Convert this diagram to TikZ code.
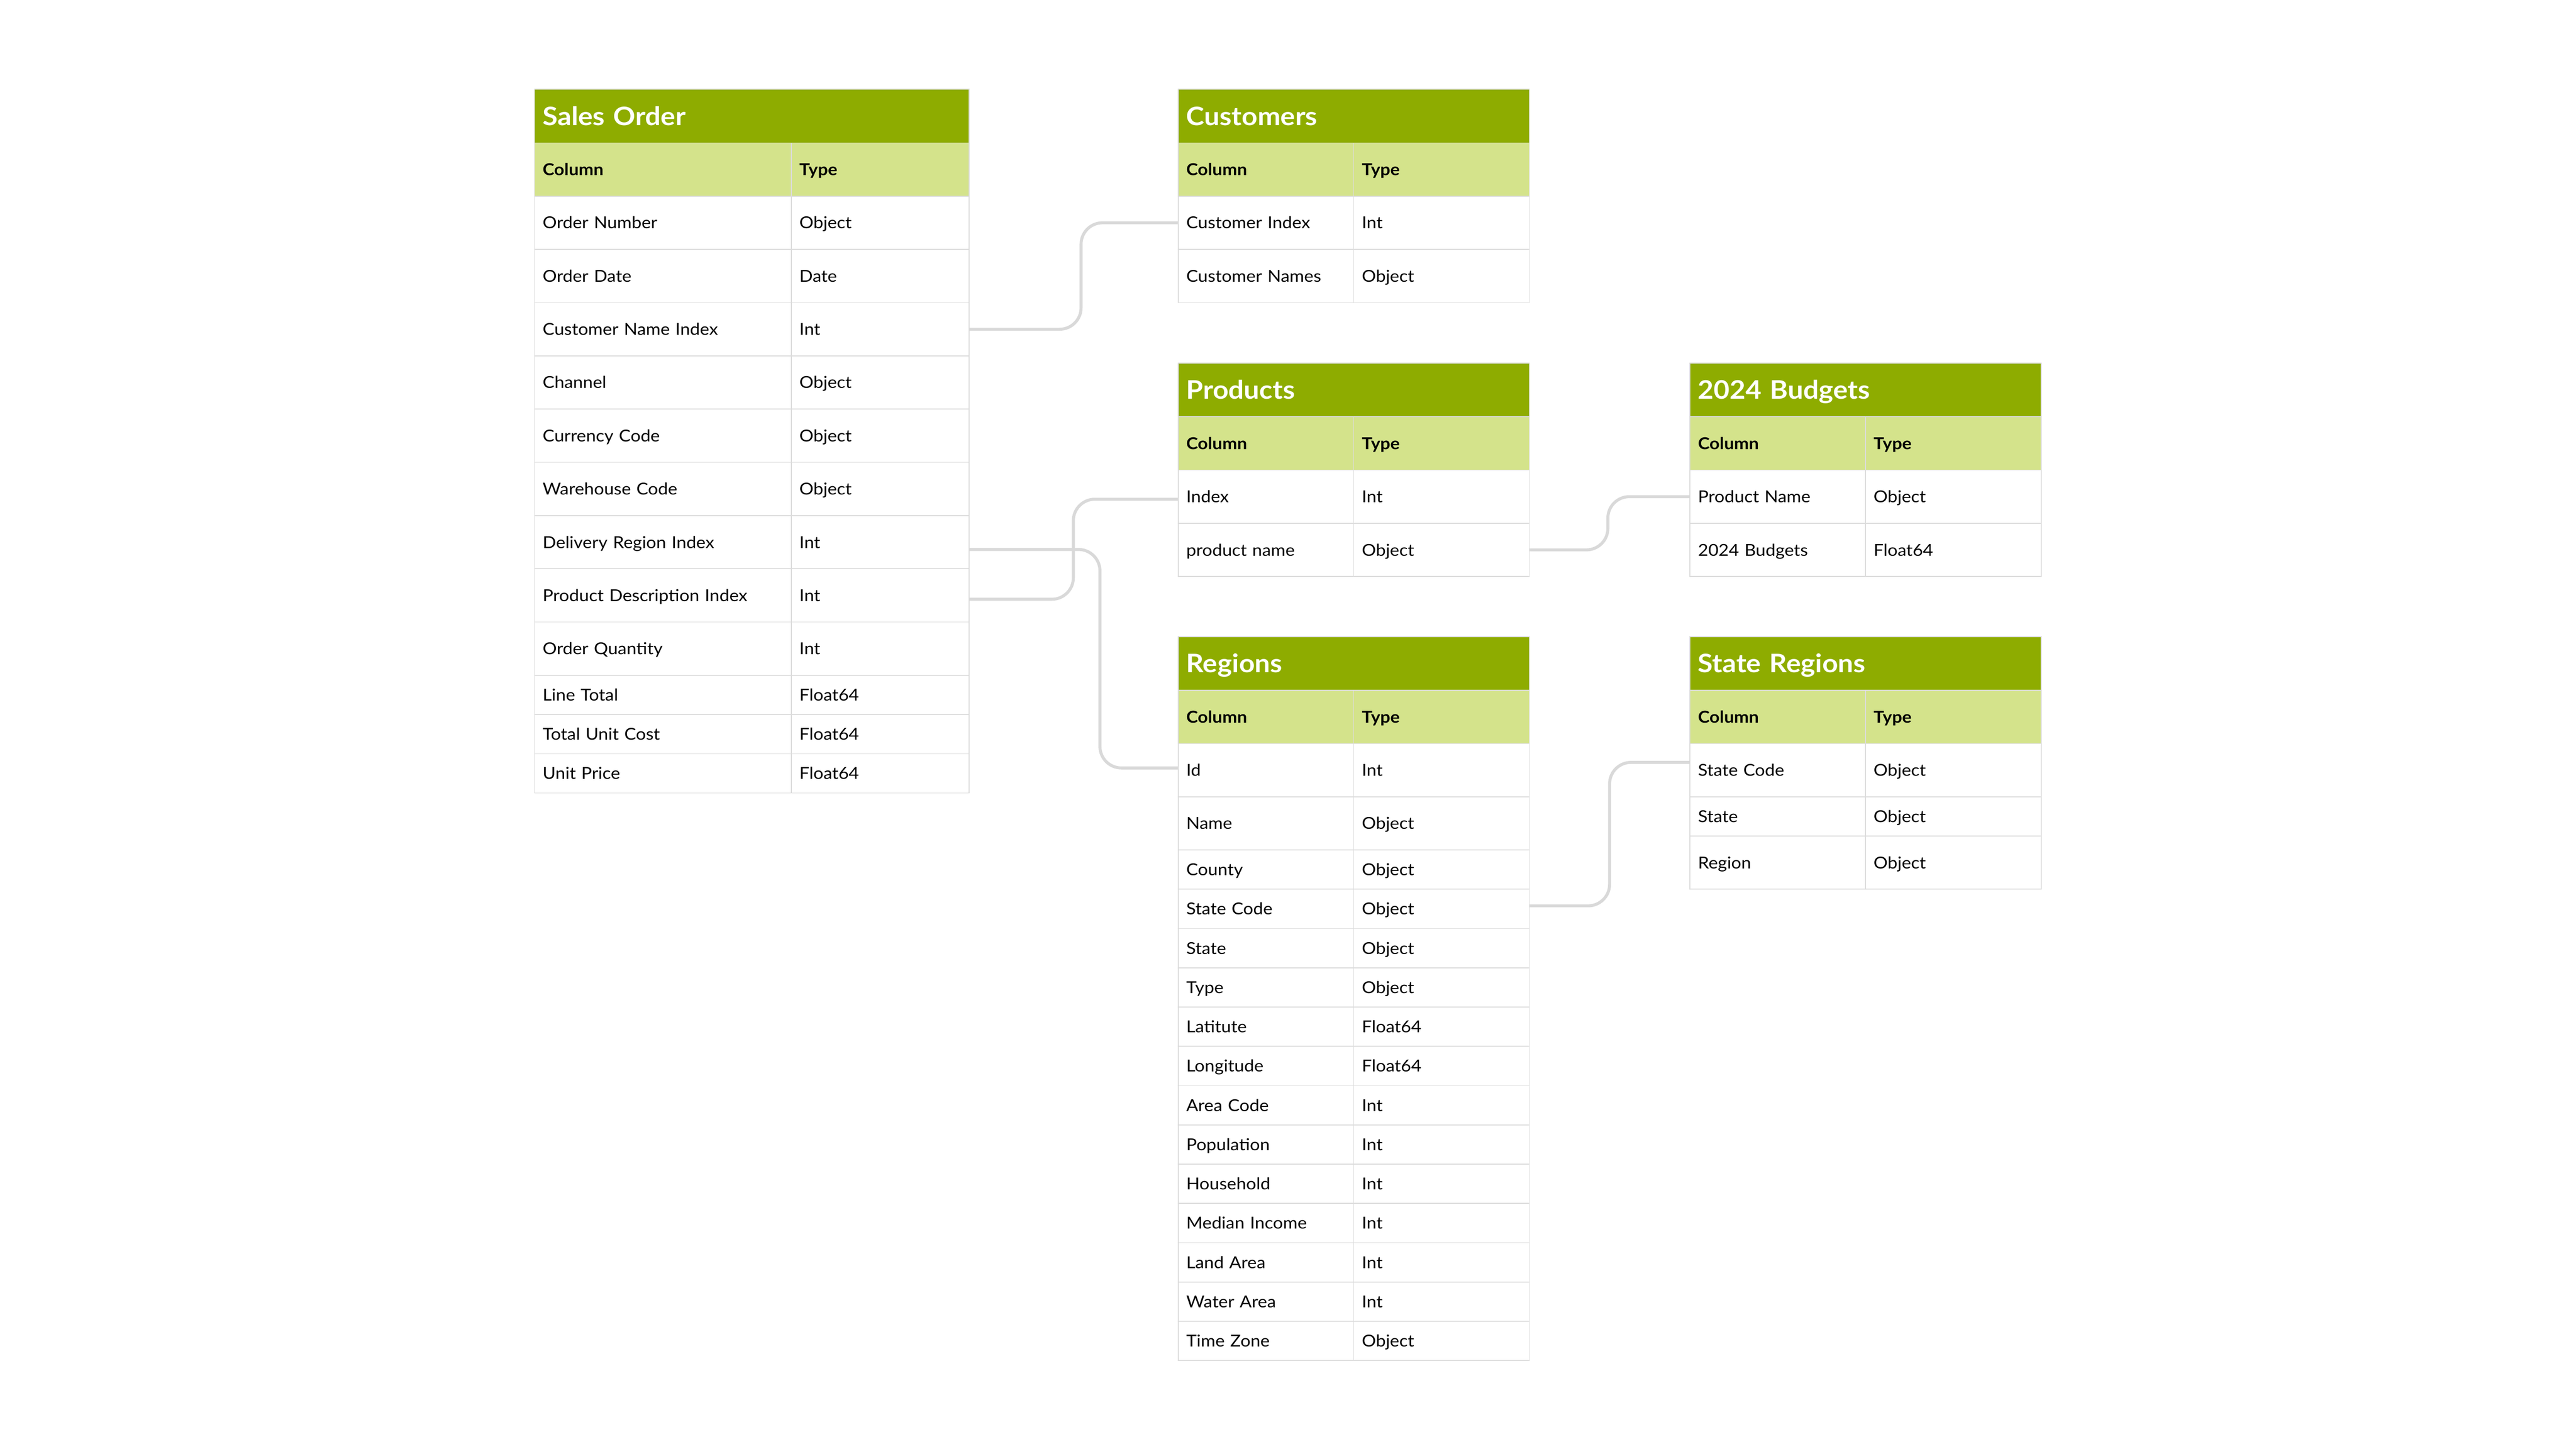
\documentclass[tikz,border=0pt]{standalone}
\usepackage{fontspec}
\setmainfont{Lato}[FakeStretch=1.075]
\usetikzlibrary{positioning}

\definecolor{hdgreen}{HTML}{8EAC00}
\definecolor{subgreen}{HTML}{D4E38B}
\definecolor{gridgray}{HTML}{DCDCDC}
\definecolor{linkgray}{HTML}{D9D9D9}

\newcommand{\bodyfont}{\fontsize{10.9}{13}\selectfont}
\newcommand{\titlefont}{\bfseries\fontsize{16.9}{20}\selectfont}

\tikzset{
  cellbox/.style={rectangle, draw=gridgray, line width=0.02cm, outer sep=0pt,
    inner xsep=0.19cm, inner ysep=0pt, align=left, text height=7.85pt, text depth=0pt, font=\bodyfont},
  titlebox/.style={cellbox, fill=hdgreen, text=white, minimum height=1.25cm, text height=12.2pt, font=\titlefont},
  headbox/.style={cellbox, fill=subgreen, minimum height=1.24cm, font=\bfseries\bodyfont},
  rowbox/.style={cellbox, fill=white},
  link/.style={draw=linkgray, line width=0.07cm, rounded corners=0.5cm},
}

% table: id, x, y, width of column, width of type, title, rows
\newcommand{\dbtable}[7]{%
  \pgfmathsetmacro\wa{#4-0.38}
  \pgfmathsetmacro\wb{#5-0.38}
  \pgfmathsetmacro\wt{#4+#5-0.38}
  \node[titlebox, anchor=north west, text width=\wt cm] (#1h) at (#2,#3) {#6};
  \node[headbox, text width=\wa cm, below=0pt of #1h.south west, anchor=north west] (#10n) {Column};
  \node[headbox, text width=\wb cm, right=0pt of #10n] (#10t) {Type};
  \foreach \cn/\ty/\rh [count=\i] in {#7} {
    \pgfmathtruncatemacro\j{\i-1}
    \node[rowbox, minimum height=\rh cm, text width=\wa cm, below=0pt of #1\j n.south west, anchor=north west] (#1\i n) {\cn};
    \node[rowbox, minimum height=\rh cm, text width=\wb cm, right=0pt of #1\i n] (#1\i t) {\ty};
  }
}

\begin{document}
\begin{tikzpicture}
  \fill[white] (0,0) rectangle (60,-33.75);
  \useasboundingbox (0,0) rectangle (60,-33.75);

  \dbtable{so}{12.45}{-2.08}{5.98}{4.14}{Sales Order}{Order Number/Object/1.24, Order Date/Date/1.24,
    Customer Name Index/Int/1.24, Channel/Object/1.24, Currency Code/Object/1.24, Warehouse Code/Object/1.24,
    Delivery Region Index/Int/1.24, Product Description Index/Int/1.24, Order Quantity/Int/1.24,
    Line Total/Float64/0.915, Total Unit Cost/Float64/0.915, Unit Price/Float64/0.915}
  \dbtable{cu}{27.44}{-2.08}{4.09}{4.09}{Customers}{Customer Index/Int/1.24, Customer Names/Object/1.24}
  \dbtable{pr}{27.44}{-8.46}{4.09}{4.09}{Products}{Index/Int/1.24, product name/Object/1.24}
  \dbtable{bu}{39.36}{-8.46}{4.09}{4.09}{2024 Budgets}{Product Name/Object/1.24, 2024 Budgets/Float64/1.24}
  \dbtable{re}{27.44}{-14.83}{4.09}{4.09}{Regions}{Id/Int/1.24, Name/Object/1.24, County/Object/0.915,
    State Code/Object/0.915, State/Object/0.915, Type/Object/0.915, Latitute/Float64/0.915,
    Longitude/Float64/0.915, Area Code/Int/0.915, Population/Int/0.915, Household/Int/0.915,
    Median Income/Int/0.915, Land Area/Int/0.915, Water Area/Int/0.915, Time Zone/Object/0.915}
  \dbtable{st}{39.36}{-14.83}{4.09}{4.09}{State Regions}{State Code/Object/1.24, State/Object/0.915, Region/Object/1.24}

  % relations
  \draw[link] (so3t.east) -- ++(2.61,0) |- (cu1n.west);
  \draw[link] ([yshift=-0.09cm]so8t.east) -- ++(2.43,0) |- ([yshift=-0.06cm]pr1n.west);
  \draw[link] ([yshift=-0.17cm]so7t.east) -- ++(3.05,0) |- ([yshift=0.05cm]re1n.west);
  \draw[link] (pr2t.east) -- ++(1.83,0) |- (bu1n.west);
  \draw[link] ([yshift=0.07cm]re4t.east) -- ++(1.87,0) |- ([yshift=0.18cm]st1n.west);
\end{tikzpicture}
\end{document}
